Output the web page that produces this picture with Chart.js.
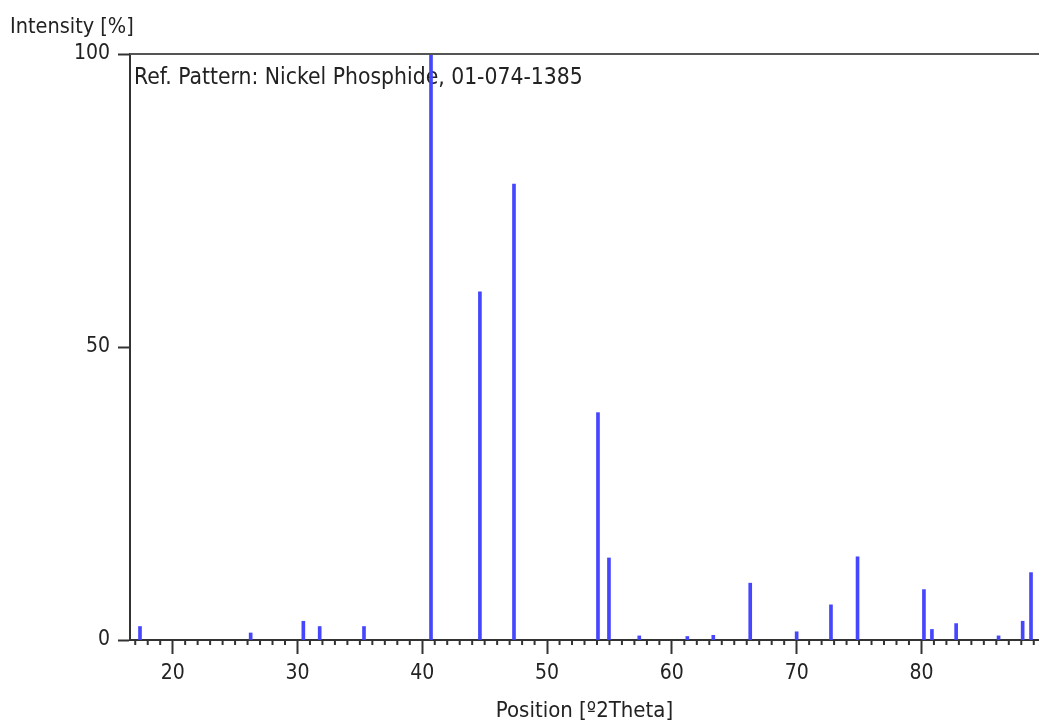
<!DOCTYPE html>
<html>
<head>
<meta charset="utf-8">
<script src="https://cdn.jsdelivr.net/npm/chart.js@4.4.0/dist/chart.umd.min.js"></script>
<style>
  html, body { margin: 0; padding: 0; background: #fff; }
  #wrap { width: 1039px; height: 726px; }
</style>
</head>
<body>
<div id="wrap"><canvas id="xrd" width="1039" height="726"></canvas></div>
<script>
// Reference pattern peaks (position in deg 2Theta, relative intensity %)
const positions = [17.38, 26.25, 30.47, 31.78, 35.33, 40.70, 44.62, 47.35, 54.08, 54.96, 57.39, 61.24, 63.32, 66.28, 70.00, 72.75, 74.88, 80.20, 80.84, 82.78, 86.18, 88.11, 88.78];
const intensities = [2.3, 1.2, 3.2, 2.3, 2.3, 100, 59.4, 77.8, 38.8, 14.0, 0.7, 0.6, 0.8, 9.7, 1.4, 6.0, 14.2, 8.6, 1.8, 2.8, 0.7, 3.2, 11.5];

const xTicks = [20, 30, 40, 50, 60, 70, 80];
const yTicks = [0, 50, 100];

const fontFamily = "'Liberation Sans Narrow', 'Arial Narrow', 'DejaVu Sans Condensed', sans-serif";
const textColor = '#222';
const axisColor = '#333';

// Extra drawing: top frame, minor ticks, labels
const decorations = {
    id: 'decorations',
    beforeDatasetsDraw(chart) {
        const ctx = chart.ctx;
        const area = chart.chartArea;
        ctx.save();
        ctx.fillStyle = textColor;
        ctx.font = '22.7px ' + fontFamily;
        ctx.textAlign = 'left';
        ctx.textBaseline = 'alphabetic';
        ctx.fillText('Ref. Pattern: Nickel Phosphide, 01-074-1385', area.left + 4, 84);
        ctx.restore();
    },
    afterDraw(chart) {
        const ctx = chart.ctx;
        const area = chart.chartArea;
        const x = chart.scales.x;
        ctx.save();
        // top frame line
        ctx.strokeStyle = '#555';
        ctx.lineWidth = 2;
        ctx.beginPath();
        ctx.moveTo(area.left, area.top);
        ctx.lineTo(area.right, area.top);
        ctx.stroke();
        // minor ticks every 1 degree
        ctx.fillStyle = axisColor;
        for (let v = Math.ceil(x.min); v <= x.max; v++) {
            if (v % 10 === 0) continue;
            const px = x.getPixelForValue(v);
            ctx.fillRect(px - 1, area.bottom, 2, 5);
        }
        // y axis caption
        ctx.fillStyle = textColor;
        ctx.font = '21.5px ' + fontFamily;
        ctx.textAlign = 'left';
        ctx.textBaseline = 'alphabetic';
        ctx.fillText('Intensity [%]', 10, 33);
        ctx.restore();
    }
};

const ctx = document.getElementById('xrd');
new Chart(ctx, {
    type: 'bar',
    data: {
        datasets: [{
            data: positions.map((p, i) => ({ x: p, y: intensities[i] })),
            backgroundColor: 'rgb(70, 70, 255)',
            borderWidth: 0,
            barThickness: 3
        }]
    },
    options: {
        responsive: false,
        animation: false,
        layout: { padding: { top: 54, left: 0, right: 0, bottom: 0 } },
        plugins: {
            legend: { display: false },
            tooltip: { enabled: false }
        },
        scales: {
            x: {
                type: 'linear',
                min: 16.58,
                max: 89.42,
                offset: false,
                afterBuildTicks: (scale) => { scale.ticks = xTicks.map(v => ({ value: v })); },
                afterFit: (scale) => { scale.height = 86; },
                grid: { offset: false, drawOnChartArea: false, tickLength: 14, tickWidth: 2, tickColor: axisColor },
                border: { color: axisColor, width: 2 },
                ticks: {
                    color: textColor,
                    font: { family: fontFamily, size: 21 },
                    padding: 7,
                    maxRotation: 0,
                    autoSkip: false
                },
                title: {
                    display: true,
                    text: 'Position [º2Theta]',
                    color: textColor,
                    font: { family: fontFamily, size: 22 },
                    padding: { top: 0, bottom: 2 }
                }
            },
            y: {
                min: 0,
                max: 100,
                afterBuildTicks: (scale) => { scale.ticks = yTicks.map(v => ({ value: v })); },
                afterFit: (scale) => { scale.width = 130; },
                grid: { drawOnChartArea: false, tickLength: 12, tickWidth: 2, tickColor: axisColor },
                border: { color: axisColor, width: 2 },
                ticks: {
                    color: textColor,
                    font: { family: fontFamily, size: 21 },
                    padding: 8
                }
            }
        }
    },
    plugins: [decorations]
});
</script>
</body>
</html>
